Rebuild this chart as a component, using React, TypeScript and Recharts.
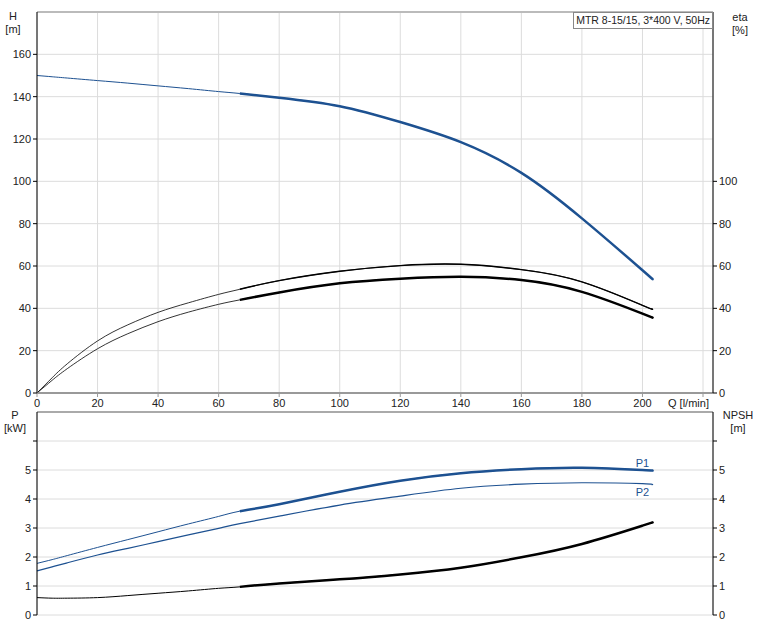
import { CartesianGrid, Line, LineChart, ReferenceLine, XAxis, YAxis } from "recharts";

// flow rate Q [l/min]
const flow = [0, 5, 10, 20, 30, 40, 50, 60, 67, 80, 100, 120, 140, 160, 180, 200, 203];
// H [m]
const head = [150, 149.4, 148.8, 147.6, 146.4, 145.1, 143.8, 142.4, 141.5, 139.5, 135.5, 128, 118.5, 104, 82.5, 58, 54.2];
// eta [%]
const etaPump = [0, 7.2, 13.8, 24.6, 32.2, 38.1, 42.6, 46.6, 49.0, 53.1, 57.5, 60.2, 60.8, 58.3, 52.5, 41.4, 39.9];
const etaTotal = [0, 6, 11.5, 20.9, 28, 33.7, 38.2, 41.9, 44.0, 47.5, 51.8, 54.0, 54.9, 53.4, 47.8, 37.5, 35.8];
// P [kW]
const powerP1 = [1.78, 1.91, 2.05, 2.33, 2.6, 2.87, 3.14, 3.4, 3.58, 3.82, 4.25, 4.63, 4.89, 5.03, 5.08, 5.0, 4.98];
const powerP2 = [1.52, 1.66, 1.8, 2.07, 2.3, 2.53, 2.76, 2.99, 3.15, 3.41, 3.79, 4.1, 4.37, 4.51, 4.56, 4.53, 4.49];
// NPSH [m]
const npsh = [0.6, 0.58, 0.58, 0.6, 0.67, 0.75, 0.83, 0.92, 0.97, 1.09, 1.23, 1.4, 1.63, 1.99, 2.45, 3.08, 3.18];

const dutyStart = 67;
const xTicks = [0, 20, 40, 60, 80, 100, 120, 140, 160, 180, 200, 220];
const headTicks = [0, 20, 40, 60, 80, 100, 120, 140, 160];
const etaTicks = [0, 20, 40, 60, 80, 100];
const powerTicks = [0, 1, 2, 3, 4, 5, 6];

const BLUE = "#1d5191";
const FONT = "'Liberation Sans', Arial, sans-serif";

const bold = (arr: number[], i: number) => (flow[i] >= dutyStart ? arr[i] : null);

const data = flow.map((q, i) => ({
  q,
  h: head[i],
  hB: bold(head, i),
  etaP: etaPump[i],
  etaPB: bold(etaPump, i),
  etaT: etaTotal[i],
  etaTB: bold(etaTotal, i),
  p1: powerP1[i],
  p1B: bold(powerP1, i),
  p2: powerP2[i],
  npsh: npsh[i],
  npshB: bold(npsh, i),
}));

const tickStyle = { fontSize: 11, fill: "#222", fontFamily: FONT };

const curveLabel = (text: string, dy: number) => (props: any) => {
  if (props.index !== flow.indexOf(200)) return <g />;
  return (
    <text x={props.x} y={props.y + dy} textAnchor="middle" fontSize={11} fill={BLUE} fontFamily={FONT}>
      {text}
    </text>
  );
};

const abs = (left: number, top: number, extra: any = {}) => ({
  position: "absolute" as const,
  left,
  top,
  fontSize: 11,
  fontFamily: FONT,
  color: "#222",
  lineHeight: "13px",
  textAlign: "center" as const,
  ...extra,
});

export default function App() {
  return (
    <div style={{ position: "relative", width: 757, height: 629, background: "#fff", fontFamily: FONT }}>
      <style>{"body{margin:0}"}</style>

      <div style={{ position: "absolute", left: 0, top: 0 }}>
        <LineChart width={757} height={410} data={data} margin={{ top: 12, right: 0, bottom: 0, left: 0 }}>
          <CartesianGrid yAxisId="left" stroke="#dcdcdc" />
          <XAxis
            dataKey="q"
            type="number"
            domain={[0, 223.3]}
            ticks={xTicks}
            interval={0}
            height={17}
            tickSize={4}
            tickFormatter={(v) => (v === 220 ? "" : String(v))}
            axisLine={{ stroke: "#999", strokeWidth: 2 }}
            tickLine={{ stroke: "#999" }}
            tick={tickStyle}
          />
          <YAxis
            yAxisId="left"
            width={37}
            domain={[0, 180]}
            ticks={headTicks}
            interval={0}
            tickSize={4}
            axisLine={{ stroke: "#000" }}
            tickLine={{ stroke: "#000" }}
            tick={tickStyle}
          />
          <YAxis
            yAxisId="right"
            orientation="right"
            width={44}
            domain={[0, 180]}
            ticks={etaTicks}
            interval={0}
            tickSize={4}
            axisLine={{ stroke: "#000" }}
            tickLine={{ stroke: "#000" }}
            tick={tickStyle}
          />
          <ReferenceLine yAxisId="left" y={180} stroke="#bbb" strokeWidth={2} />
          <Line yAxisId="left" dataKey="h" type="natural" stroke={BLUE} strokeWidth={1} dot={false} isAnimationActive={false} />
          <Line yAxisId="left" dataKey="hB" type="natural" stroke={BLUE} strokeWidth={2.5} dot={false} isAnimationActive={false} />
          <Line yAxisId="right" dataKey="etaP" type="natural" stroke="#000" strokeWidth={0.8} dot={false} isAnimationActive={false} />
          <Line yAxisId="right" dataKey="etaPB" type="natural" stroke="#000" strokeWidth={1.4} dot={false} isAnimationActive={false} />
          <Line yAxisId="right" dataKey="etaT" type="natural" stroke="#000" strokeWidth={0.8} dot={false} isAnimationActive={false} />
          <Line yAxisId="right" dataKey="etaTB" type="natural" stroke="#000" strokeWidth={2.5} dot={false} isAnimationActive={false} />
        </LineChart>
      </div>

      <div style={{ position: "absolute", left: 0, top: 400 }}>
        <LineChart width={757} height={229} data={data} margin={{ top: 12, right: 0, bottom: 14, left: 0 }}>
          <CartesianGrid yAxisId="left" stroke="#dcdcdc" />
          <XAxis
            dataKey="q"
            type="number"
            domain={[0, 223.3]}
            ticks={xTicks}
            interval={0}
            height={0}
            tick={false}
            tickLine={false}
            axisLine={{ stroke: "#999", strokeWidth: 2 }}
          />
          <YAxis
            yAxisId="left"
            width={37}
            domain={[0, 7]}
            ticks={powerTicks}
            interval={0}
            tickSize={4}
            tickFormatter={(v) => (v === 6 ? "" : String(v))}
            axisLine={{ stroke: "#000" }}
            tickLine={{ stroke: "#000" }}
            tick={tickStyle}
          />
          <YAxis
            yAxisId="right"
            orientation="right"
            width={44}
            domain={[0, 7]}
            ticks={powerTicks}
            interval={0}
            tickSize={4}
            tickFormatter={(v) => (v === 6 ? "" : String(v))}
            axisLine={{ stroke: "#000" }}
            tickLine={{ stroke: "#000" }}
            tick={tickStyle}
          />
          <ReferenceLine yAxisId="left" y={7} stroke="#aaa" strokeWidth={2} />
          <Line yAxisId="left" dataKey="p1" type="natural" stroke={BLUE} strokeWidth={1} dot={false} isAnimationActive={false} label={curveLabel("P1", -3)} />
          <Line yAxisId="left" dataKey="p1B" type="natural" stroke={BLUE} strokeWidth={2.5} dot={false} isAnimationActive={false} />
          <Line yAxisId="left" dataKey="p2" type="natural" stroke={BLUE} strokeWidth={1.2} dot={false} isAnimationActive={false} label={curveLabel("P2", 12)} />
          <Line yAxisId="right" dataKey="npsh" type="natural" stroke="#000" strokeWidth={1} dot={false} isAnimationActive={false} />
          <Line yAxisId="right" dataKey="npshB" type="natural" stroke="#000" strokeWidth={2.5} dot={false} isAnimationActive={false} />
        </LineChart>
      </div>

      <div
        style={{
          position: "absolute",
          right: 44,
          top: 12,
          height: 15,
          padding: "0 2px",
          border: "1px solid #888",
          background: "#fff",
          fontSize: 10.5,
          lineHeight: "15px",
          fontFamily: FONT,
          color: "#222",
          whiteSpace: "nowrap",
        }}
      >
        MTR 8-15/15, 3*400 V, 50Hz
      </div>

      <div style={abs(2, 10, { width: 22 })}>H<br />[m]</div>
      <div style={abs(726, 11, { width: 28 })}>eta<br />[%]</div>
      <div style={abs(2, 409, { width: 26 })}>P<br />[kW]</div>
      <div style={abs(720, 409, { width: 36 })}>NPSH<br />[m]</div>
      <div style={abs(668, 397, { whiteSpace: "nowrap" })}>Q [l/min]</div>
    </div>
  );
}
